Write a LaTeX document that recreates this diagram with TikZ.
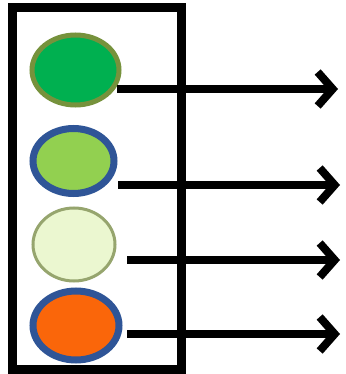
\documentclass[tikz,border=0pt]{standalone}
\usetikzlibrary{arrows.meta,shapes.geometric}
\definecolor{g1}{RGB}{0,176,80}
\definecolor{g1b}{RGB}{118,146,60}
\definecolor{g2}{RGB}{146,208,80}
\definecolor{bl}{RGB}{47,85,151}
\definecolor{g3}{RGB}{235,247,208}
\definecolor{g3b}{RGB}{150,165,110}
\definecolor{or}{RGB}{250,102,10}
\tikzset{
  disc/.style={ellipse,minimum width=#1,inner sep=0pt},
  frame/.style={draw=black,line width=9pt},
  flow/.style={draw=black,line width=8pt,-{Straight Barb[length=15pt,width=34pt,line width=8pt]}}
}
\begin{document}
\begin{tikzpicture}[x=1pt,y=-1pt]
\useasboundingbox (0,0) rectangle (345,374);
\fill[white] (0,0) rectangle (345,374);
\node[frame,minimum width=169pt,minimum height=361pt,inner sep=0pt] (box) at (96.5,188.5) {};
\node[disc=87pt,minimum height=70pt,fill=g1,draw=g1b,line width=5pt] (c1) at (75.5,70) {};
\node[disc=81pt,minimum height=65pt,fill=g2,draw=bl,line width=7pt] (c2) at (73.5,161) {};
\node[disc=82pt,minimum height=73pt,fill=g3,draw=g3b,line width=3pt] (c3) at (74,244.5) {};
\node[disc=86pt,minimum height=69pt,fill=or,draw=bl,line width=7pt] (c4) at (76,325.5) {};
\coordinate (s1) at (117,89);  \coordinate (e1) at (338,89);
\coordinate (s2) at (118,185); \coordinate (e2) at (340,185);
\coordinate (s3) at (127,260); \coordinate (e3) at (340,260);
\coordinate (s4) at (127,334); \coordinate (e4) at (340,334);
\draw[flow] (s1) -- (e1);
\draw[flow] (s2) -- (e2);
\draw[flow] (s3) -- (e3);
\draw[flow] (s4) -- (e4);
\end{tikzpicture}
\end{document}
